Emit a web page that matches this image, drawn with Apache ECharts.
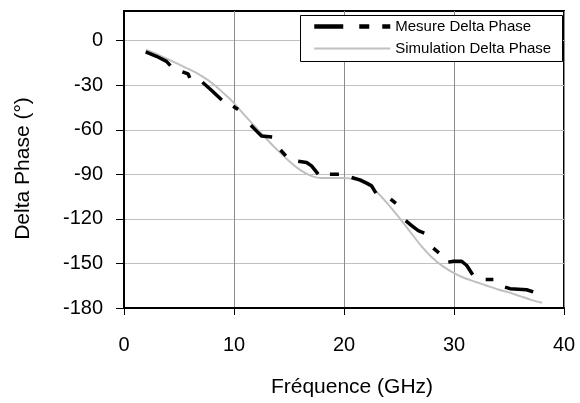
<!DOCTYPE html>
<html>
<head>
<meta charset="utf-8">
<script src="https://cdn.jsdelivr.net/npm/echarts@6/dist/echarts.min.js"></script>
<style>
html,body{margin:0;padding:0;background:#fff;}
#chart{width:580px;height:403px;}
</style>
</head>
<body>
<div id="chart"></div>
<script>
// Measured (Mesure Delta Phase): visible pieces, null = gap
const mesX = [1.97, 2.95, 3.86, 4.22, 4.7,
              5.31, 5.83, 5.98, 6.5,
              7.13, 7.8, 8.89, 9.4,
              9.92, 10.37, 10.9,
              11.53, 12.19, 12.5, 13.47, 13.8,
              14.23, 14.71, 15.2,
              15.83, 16.6, 17.05, 17.65, 18.2,
              18.72, 19.54, 20.1,
              20.69, 21.45, 22.06, 22.51, 22.9, 23.5,
              24.24, 24.72, 25.1,
              25.61, 26.15, 26.75, 27.3, 27.7,
              28.12, 28.63, 29.0,
              29.48, 29.94, 30.7, 31.16, 31.7, 32.3,
              32.88, 33.58, 34.1,
              34.64, 35.1, 36.6, 37.2];
const mesY = [-7.6, -10.5, -13.9, -16.8, null,
              -21.0, -22.4, -25.0, null,
              -28.0, -32.4, -40.0, null,
              -44.1, -46.3, null,
              -57.0, -61.9, -64.2, -64.9, null,
              -73.6, -77.6, null,
              -81.2, -82.0, -84.3, -89.9, null,
              -89.9, -89.9, null,
              -92.1, -93.7, -95.9, -97.7, -102.6, null,
              -106.7, -109.5, null,
              -121.2, -124.5, -127.9, -129.5, null,
              -139.7, -142.9, null,
              -149.1, -148.5, -148.5, -151.4, -157.6, null,
              -160.8, -160.8, null,
              -165.9, -167.0, -167.7, -169.2];
// Simulation Delta Phase
const simX = [2, 3, 4, 5, 6, 7, 8, 9, 10, 11, 12, 13, 14, 15, 16, 17, 18, 19, 20, 21, 22, 23, 24, 25, 26, 27, 28, 29, 30, 31, 32, 33, 34, 35, 36, 37, 38];
const simY = [-6, -9, -12.5, -16, -19.5, -23.5, -28.5, -35, -42, -50.5, -58.5, -66.5, -74, -81, -87, -91, -92.5, -92.5, -92.5, -93.5, -96.5, -102, -110, -119, -128.5, -138, -146, -152, -156.5, -160, -162.5, -165, -167.5, -169.5, -172, -174.5, -176.5];
const xTicks = [0, 10, 20, 30, 40];
const yTicks = [-180, -150, -120, -90, -60, -30, 0];
const seriesNames = ['Mesure Delta Phase', 'Simulation Delta Phase'];

const FONT = 'Liberation Sans, Arial, sans-serif';
const chart = echarts.init(document.getElementById('chart'), null, {renderer: 'canvas'});
chart.setOption({
  animation: false,
  backgroundColor: '#fff',
  grid: {left: 124, right: 16, top: 11, bottom: 94, show: true, borderColor: '#000', borderWidth: 2, backgroundColor: 'transparent'},
  xAxis: {
    type: 'value', min: 0, max: 40, interval: 10,
    name: 'Fréquence (GHz)', nameLocation: 'middle', nameGap: 69,
    nameTextStyle: {fontFamily: FONT, fontSize: 21, color: '#000', padding: [0, 0, 0, 16]},
    axisLine: {show: true, onZero: false, lineStyle: {color: '#000', width: 2}},
    axisTick: {show: true, length: 7, lineStyle: {color: '#000', width: 1}},
    axisLabel: {fontFamily: FONT, fontSize: 20, color: '#000', margin: 27, customValues: xTicks},
    splitLine: {show: true, lineStyle: {color: '#8c8c8c', width: 1}}
  },
  yAxis: {
    type: 'value', min: -180, max: 20, interval: 30,
    name: 'Delta Phase (°)', nameLocation: 'middle', nameGap: 90,
    nameTextStyle: {fontFamily: FONT, fontSize: 21, color: '#000', padding: [0, 18, 0, 0]},
    axisLine: {show: true, onZero: false, lineStyle: {color: '#000', width: 2}},
    axisTick: {show: true, length: 8, lineStyle: {color: '#000', width: 1}, customValues: yTicks},
    axisLabel: {fontFamily: FONT, fontSize: 20, color: '#000', margin: 21, customValues: yTicks},
    splitLine: {show: true, lineStyle: {color: '#c0c0c0', width: 1}}
  },
  graphic: [{
    type: 'rect', z: 50,
    shape: {x: 300.5, y: 15.5, width: 262, height: 46},
    style: {fill: '#fff', stroke: '#000', lineWidth: 1}
  }],
  legend: {
    z: 60, orient: 'vertical', left: 312, top: 19, padding: 0,
    itemWidth: 76, itemHeight: 14, itemGap: 7,
    textStyle: {fontFamily: FONT, fontSize: 15, color: '#000'},
    data: [
      {name: seriesNames[0], itemStyle: {opacity: 0}, lineStyle: {color: '#000', width: 4.5, type: [29, 16, 10, 13, 11, 0]}},
      {name: seriesNames[1], itemStyle: {opacity: 0}, lineStyle: {color: '#c0c0c0', width: 2}}
    ]
  },
  series: [
    {
      name: seriesNames[0], type: 'line', symbol: 'none', connectNulls: false,
      lineStyle: {color: '#000', width: 3.5}, itemStyle: {color: '#000'},
      data: mesX.map((x, i) => [x, mesY[i]]), z: 3
    },
    {
      name: seriesNames[1], type: 'line', symbol: 'none', smooth: 0.3,
      lineStyle: {color: '#c0c0c0', width: 2}, itemStyle: {color: '#c0c0c0'},
      data: simX.map((x, i) => [x, simY[i]]), z: 2
    }
  ]
});
</script>
</body>
</html>
